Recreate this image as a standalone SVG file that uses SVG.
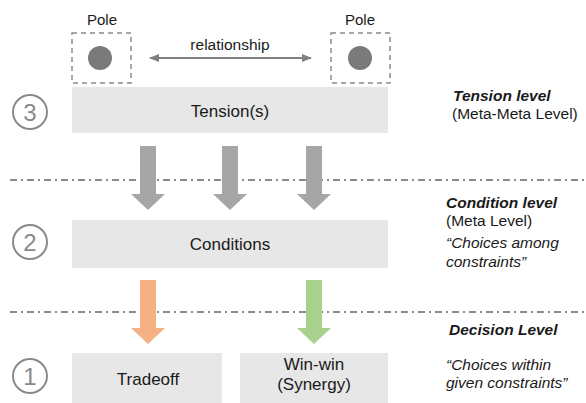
<svg xmlns="http://www.w3.org/2000/svg" width="586" height="403" viewBox="0 0 586 403">
<style>
text{font-family:"Liberation Sans",Arial,sans-serif;fill:#1a1a1a}
.box{fill:#e7e7e7}
.pole{fill:none;stroke:#8a8a8a;stroke-width:1.5;stroke-dasharray:5 4}
.dot{fill:#7a7a7a}
.num{fill:none;stroke:#8a8a8a;stroke-width:2}
.numt{fill:#8a8a8a;font-size:24px}
.sep{stroke:#666;stroke-width:1.5;stroke-dasharray:7 4 2 4;fill:none}
.lbl{font-size:17px}
.side{font-size:15.5px}
.sideb{font-size:15.5px;font-weight:bold;font-style:italic}
.it{font-style:italic;font-size:15.5px}
</style>
<defs>
<marker id="ah" viewBox="0 0 10 10" refX="9" refY="5" markerWidth="5" markerHeight="5" orient="auto-start-reverse"><path d="M0,1 L10,5 L0,9 z" fill="#808080"/></marker>
</defs>
<g id="separators">
<line class="sep" x1="10" y1="180" x2="586" y2="180"/>
<line class="sep" x1="10" y1="312" x2="586" y2="312"/>
</g>
<g id="pole-left">
<text x="102" y="25" text-anchor="middle" style="font-size:15px">Pole</text>
<rect class="pole" x="72" y="33" width="59" height="50"/>
<circle class="dot" cx="100" cy="58" r="12"/>
</g>
<g id="pole-right">
<text x="360" y="25" text-anchor="middle" style="font-size:15px">Pole</text>
<rect class="pole" x="331" y="33" width="59" height="50"/>
<circle class="dot" cx="360" cy="58" r="12"/>
</g>
<g id="tension">
<rect class="box" x="72" y="87" width="316" height="46"/>
<text class="lbl" x="230" y="117" text-anchor="middle">Tension(s)</text>
</g>
<g id="conditions">
<rect class="box" x="72" y="220" width="316" height="48"/>
<text class="lbl" x="230" y="250" text-anchor="middle">Conditions</text>
</g>
<g id="tradeoff">
<rect class="box" x="72" y="353" width="150" height="50"/>
<text class="lbl" x="148" y="385" text-anchor="middle">Tradeoff</text>
</g>
<g id="winwin">
<rect class="box" x="240" y="353" width="148" height="50"/>
<text class="lbl" x="314" y="370" text-anchor="middle">Win-win</text>
<text class="lbl" x="314" y="390" text-anchor="middle">(Synergy)</text>
</g>
<g id="level3">
<circle class="num" cx="30" cy="112" r="17"/>
<text class="numt" x="30" y="120.5" text-anchor="middle">3</text>
</g>
<g id="level2">
<circle class="num" cx="30" cy="242" r="17"/>
<text class="numt" x="30" y="250.5" text-anchor="middle">2</text>
</g>
<g id="level1">
<circle class="num" cx="30" cy="376" r="17"/>
<text class="numt" x="30" y="384.5" text-anchor="middle">1</text>
</g>
<g id="labels">
<text class="sideb" x="453" y="101">Tension level</text>
<text class="side" x="452" y="119">(Meta-Meta Level)</text>
<text class="sideb" x="446" y="208">Condition level</text>
<text class="side" x="446" y="226">(Meta Level)</text>
<text class="it" x="446" y="248">“Choices among</text>
<text class="it" x="446" y="267">constraints”</text>
<text class="sideb" x="449" y="335">Decision Level</text>
<text class="it" x="446" y="370">“Choices within</text>
<text class="it" x="446" y="388">given constraints”</text>
</g>
<g id="connectors">
<line x1="150" y1="58" x2="311" y2="58" stroke="#808080" stroke-width="2" marker-start="url(#ah)" marker-end="url(#ah)"/>
<text x="230" y="50" text-anchor="middle" style="font-size:15.5px">relationship</text>
<path d="M140,146 H156 V194 H165 L148,210 L131,194 H140 Z" fill="#a6a6a6"/>
<path d="M222,146 H238 V194 H247 L230,210 L213,194 H222 Z" fill="#a6a6a6"/>
<path d="M306,146 H322 V194 H331 L314,210 L297,194 H306 Z" fill="#a6a6a6"/>
<path d="M140,280 H156 V328 H165 L148,344 L131,328 H140 Z" fill="#f4b183"/>
<path d="M306,280 H322 V328 H331 L314,344 L297,328 H306 Z" fill="#a9d18e"/>
</g>
</svg>
